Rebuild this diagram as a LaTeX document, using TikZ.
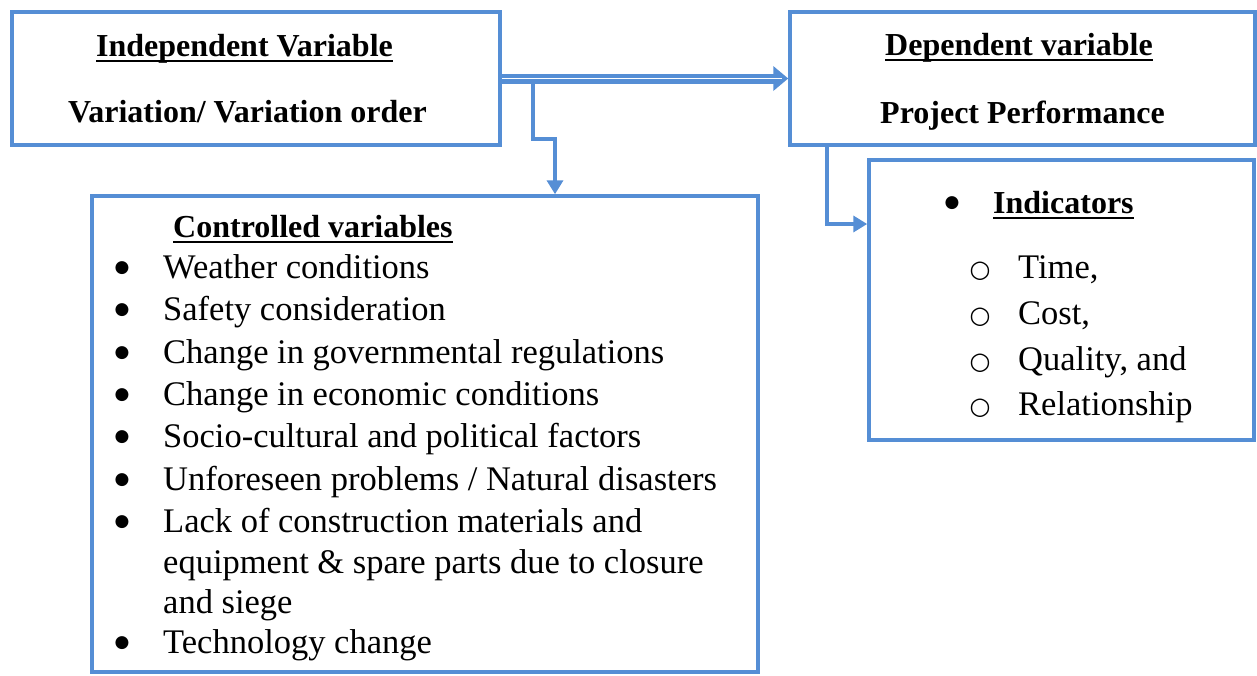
\documentclass[tikz,border=0pt]{standalone}
\usepackage{fontspec}
\setmainfont{Liberation Serif}
\newfontfamily\symfnt{DejaVu Sans}
\usetikzlibrary{arrows.meta,calc}
\definecolor{bl}{RGB}{85,142,213}
\begin{document}
\begin{tikzpicture}[x=1pt,y=-1pt,
  box/.style={draw=bl,line width=3.5pt,fill=white,inner sep=0pt},
  conn/.style={draw=bl,line width=3.5pt},
  tip/.style={-{Triangle[length=14pt,width=16pt]}},
  ttl/.style={anchor=base west,inner sep=0pt,font=\fontsize{32}{38}\selectfont\bfseries},
  itm/.style={anchor=base west,inner sep=0pt,font=\fontsize{34.5}{42}\selectfont},
  bul/.style={anchor=center,inner sep=0pt,font=\fontsize{17}{18}\selectfont\symfnt},
  cbul/.style={anchor=center,inner sep=0pt,font=\fontsize{24}{26}\selectfont\symfnt},
  ul/.style={line width=2.5pt,black}]
\useasboundingbox (0,0) rectangle (1257,675);
% boxes
\node[box,minimum width=488pt,minimum height=133pt] (ind) at (256,78.5) {};
\node[box,minimum width=465pt,minimum height=133pt] (dep) at (1022.5,78.5) {};
\node[box,minimum width=666pt,minimum height=476pt] (ctrl) at (425,434) {};
\node[box,minimum width=385pt,minimum height=280pt] (indic) at (1061.5,300) {};
% independent
\node[ttl] (t1) at (96,56) {Independent Variable};
\draw[ul] ([yshift=-5pt]t1.base west) -- ([yshift=-5pt]t1.base east);
\node[ttl] (t2) at (68,122) {Variation/ Variation order};
% dependent
\node[ttl] (t3) at (885,55) {Dependent variable};
\draw[ul] ([yshift=-5pt]t3.base west) -- ([yshift=-5pt]t3.base east);
\node[ttl] (t4) at (880,123) {Project Performance};
% controlled
\node[ttl] (t5) at (173,237) {Controlled variables};
\draw[ul] ([yshift=-5pt]t5.base west) -- ([yshift=-5pt]t5.base east);
\foreach \y/\txt [count=\i] in {278/{Weather conditions}, 320/{Safety consideration}, 363/{Change in governmental regulations}, 405/{Change in economic conditions}, 447/{Socio-cultural and political factors}, 490/{Unforeseen problems / Natural disasters}, 532/{Lack of construction materials and}, 653/{Technology change}}{
  \node[bul] (cb\i) at (122,\y-10) {●};
  \node[itm] (ci\i) at (163,\y) {\txt};
}
\node[itm] (cl1) at (163,573) {equipment \& spare parts due to closure};
\node[itm] (cl2) at (163,613) {and siege};
% indicators
\node[bul] (ib) at (952,203) {●};
\node[ttl] (t6) at (993,213) {Indicators};
\draw[ul] ([yshift=-5pt]t6.base west) -- ([yshift=-5pt]t6.base east);
\foreach \y/\txt [count=\i] in {278/{Time,}, 324/{Cost,}, 370/{Quality, and}, 415/{Relationship}}{
  \node[cbul] (ob\i) at (980,\y-7) {○};
  \node[itm] (oi\i) at (1018,\y) {\txt};
}
% connectors
\draw[bl,line width=10pt,-{Triangle[length=15pt,width=24pt]}] (ind.east) -- (dep.west);
\draw[white,line width=1.2pt] (ind.east) -- ($(dep.west)+(-6,0)$);
\coordinate (j1) at (533,80);
\coordinate (j1b) at (555,139);
\draw[conn,tip] (j1) |- (j1b) -- (j1b|-ctrl.north);
\coordinate (j2) at (827,145);
\coordinate (j2b) at (860,224);
\draw[conn,tip] (j2) |- (indic.west|-j2b);
\end{tikzpicture}
\end{document}
